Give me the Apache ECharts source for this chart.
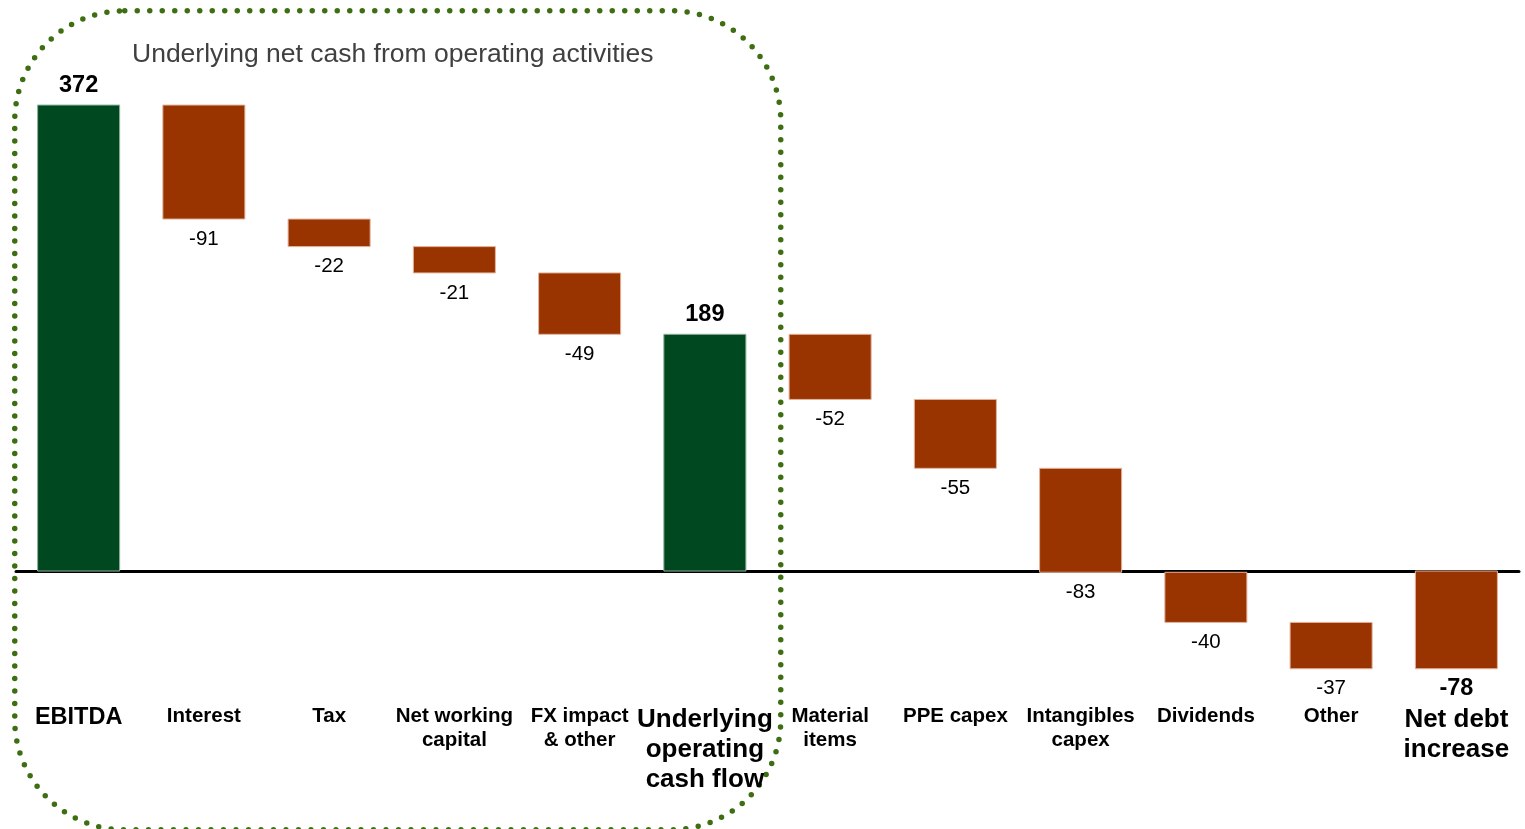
<!DOCTYPE html>
<html>
<head>
<meta charset="utf-8">
<script src="https://cdn.jsdelivr.net/npm/echarts@6/dist/echarts.min.js"></script>
<style>
html,body{margin:0;padding:0;background:#fff;}
#chart{width:1525px;height:829px;}
</style>
</head>
<body>
<div id="chart"></div>
<script>
// ---- data ----
const categories = ['EBITDA','Interest','Tax','Net working\ncapital','FX impact\n& other','Underlying\noperating\ncash flow','Material\nitems','PPE capex','Intangibles\ncapex','Dividends','Other','Net debt\nincrease'];
const values = [372, -91, -22, -21, -49, 189, -52, -55, -83, -40, -37, -78];
const isTotal = [true, false, false, false, false, true, false, false, false, false, false, true];
const boxTitle = 'Underlying net cash from operating activities';

// ---- build waterfall ranges ----
const FONT = "'Liberation Sans', Arial, sans-serif";
let running = 0;
const rangeData = values.map((v, i) => {
  let s, e;
  if (isTotal[i]) { s = 0; e = v; running = v; }
  else { s = running; e = running + v; running = e; }
  return [i, s, e, v, isTotal[i] ? 1 : 0];
});

const bigLabels = { 0: 'e', 5: 'b', 11: 'b' };

const chart = echarts.init(document.getElementById('chart'));
chart.setOption({
  backgroundColor: '#ffffff',
  animation: false,
  grid: { left: 16, right: 6, top: 70, bottom: 132.7, containLabel: false, outerBoundsMode: 'none' },
  xAxis: {
    type: 'category',
    data: categories,
    axisLine: { show: true, onZero: true, lineStyle: { color: '#000', width: 3 } },
    axisTick: { show: false },
    axisLabel: {
      interval: 0,
      hideOverlap: false,
      margin: 8,
      formatter: function (val, idx) {
        const st = bigLabels[idx] || 'a';
        return val.split('\n').map(l => '{' + st + '|' + l + '}').join('\n');
      },
      rich: {
        a: { fontFamily: FONT, fontWeight: 'bold', fontSize: 20.5, lineHeight: 24, color: '#000' },
        e: { fontFamily: FONT, fontWeight: 'bold', fontSize: 23.5, lineHeight: 27, color: '#000' },
        b: { fontFamily: FONT, fontWeight: 'bold', fontSize: 26, lineHeight: 30, color: '#000', padding: [2, 0, 0, 0] }
      }
    },
    splitLine: { show: false }
  },
  yAxis: {
    type: 'value', min: -100, max: 400, interval: 100,
    show: false, splitLine: { show: false }
  },
  graphic: [
    {
      type: 'rect', left: 12, top: 8, silent: true,
      shape: { x: 0, y: 0, width: 766, height: 819, r: 110 },
      style: { fill: 'none', stroke: '#3e6e12', lineWidth: 5.5, lineDash: [0, 12.5], lineCap: 'round' }
    },
    {
      type: 'text', left: 132, top: 41, silent: true,
      style: { text: boxTitle, fontFamily: FONT, fontSize: 26.5, fill: '#404040' }
    }
  ],
  series: [{
    type: 'custom',
    data: rangeData,
    encode: { x: 0, y: [1, 2] },
    renderItem: function (params, api) {
      const i = api.value(0), s = api.value(1), e = api.value(2), v = api.value(3), tot = api.value(4);
      const p1 = api.coord([i, s]), p2 = api.coord([i, e]);
      const w = api.size([1, 0])[0] * 0.655;
      const top = Math.min(p1[1], p2[1]), bot = Math.max(p1[1], p2[1]);
      const pos = v > 0;
      return {
        type: 'group',
        children: [
          {
            type: 'rect',
            shape: { x: p1[0] - w / 2, y: top, width: w, height: bot - top },
            style: { fill: pos ? '#004920' : '#993300', stroke: pos ? '#8fb09a' : '#e3b39c', lineWidth: 1 }
          },
          {
            type: 'text',
            style: {
              text: String(v),
              x: p1[0],
              y: pos ? top - 20 : bot + 20,
              align: 'center', verticalAlign: 'middle',
              fontFamily: FONT,
              fontSize: tot ? 23.5 : 20.5,
              fontWeight: tot ? 'bold' : 'normal',
              fill: '#000'
            }
          }
        ]
      };
    }
  }]
});
</script>
</body>
</html>
